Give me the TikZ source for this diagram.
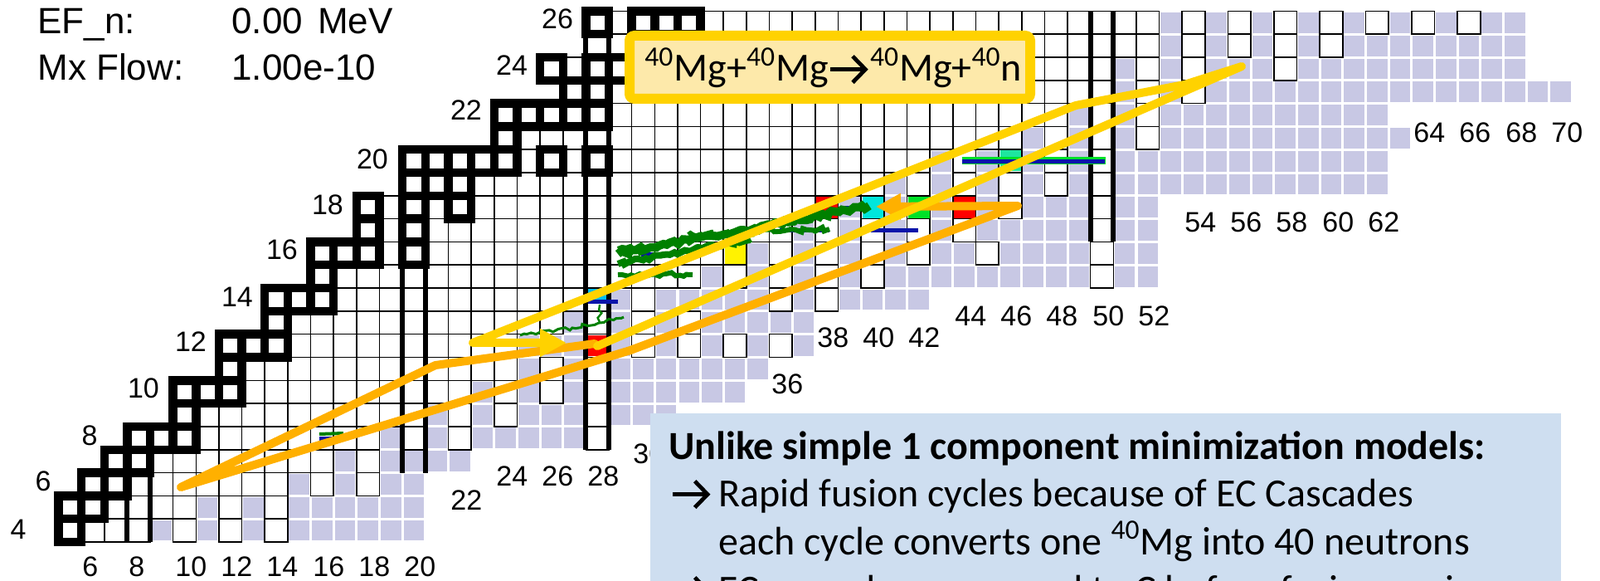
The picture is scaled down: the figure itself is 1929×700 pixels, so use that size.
\documentclass[tikz,border=0pt]{standalone}
\usepackage{fontspec}
\setmainfont{Liberation Sans}
\newfontfamily\calib{Carlito}
\usetikzlibrary{arrows.meta,decorations.pathmorphing}
\pgfdeclarelayer{back}
\pgfdeclarelayer{bg}
\pgfdeclarelayer{stab}
\pgfdeclarelayer{flow}
\pgfdeclarelayer{over}
\pgfsetlayers{back,bg,main,stab,flow,over}
\definecolor{lav}{RGB}{200,200,228}
\definecolor{ylw}{RGB}{255,210,0}
\definecolor{org}{RGB}{255,176,0}
\definecolor{ybox}{RGB}{253,233,170}
\definecolor{bbox}{RGB}{206,222,240}
\definecolor{fgreen}{RGB}{0,128,0}
\definecolor{fblue}{RGB}{10,20,170}
\definecolor{fcyan}{RGB}{0,230,220}
\definecolor{fgrn}{RGB}{0,225,40}
\definecolor{fmint}{RGB}{30,230,160}
\definecolor{fsky}{RGB}{0,190,240}
\newcommand\drawcell[3]{%
  \pgfmathsetmacro\cx{-54+27.65*#1}%
  \pgfmathsetmacro\cy{750.2-27.8*#2}%
  \if#3L\relax
    \begin{pgfonlayer}{bg}\fill[lav] (\cx-12.3,\cy-12.4) rectangle (\cx+12.3,\cy+12.4);\end{pgfonlayer}%
  \else
    \draw[thincell] (\cx-13.825,\cy-13.9) rectangle (\cx+13.825,\cy+13.9);%
    \if#3S\relax
      \begin{pgfonlayer}{stab}\draw[stabcell] (\cx-13.825,\cy-13.9) rectangle (\cx+13.825,\cy+13.9);\end{pgfonlayer}%
    \fi
  \fi}
\newcommand\crow[6]{%
  \foreach \n in {#2,...,#4}{%
    \ifnum\n>#3\relax\gdef\ctype{L}\else\gdef\ctype{W}\fi
    \foreach \e in {#6}{\ifnum\n=\e\relax\gdef\ctype{W}\fi}%
    \foreach \e in {#5}{\ifnum\n=\e\relax\gdef\ctype{S}\fi}%
    \drawcell{\n}{#1}{\ctype}%
  }}
\newcommand\rarr{\tikz[baseline={(0,-0.3em)}]\draw[line width=0.1em,-{Straight Barb[length=0.32em,width=0.66em,line width=0.1em]}] (0,0) -- (0.95em,0);}
\begin{document}
\begin{tikzpicture}[x=0.5pt,y=-0.5pt,
  thincell/.style={draw=black,fill=white,line width=0.8pt},
  stabcell/.style={draw=black,line width=5.2pt},
  magic/.style={draw=black,line width=3pt},
  lbl/.style={font=\fontsize{17}{17}\selectfont,inner sep=0pt,anchor=west},
  zlbl/.style={font=\fontsize{17}{17}\selectfont,inner sep=0pt},
  hdr/.style={font=\fontsize{22}{22}\selectfont,inner sep=0pt,anchor=base west},
  ypath/.style={draw=ylw,line width=5pt,line cap=round,line join=round},
  opath/.style={draw=org,line width=5pt,line cap=round,line join=round},
  gstreak/.style={draw=fgreen,decorate,decoration={random steps,segment length=2.5pt,amplitude=1.3pt}},
  bline/.style={draw=fblue,line width=2.5pt},
  btxt/.style={font=\calib\fontsize{24}{24}\selectfont,inner sep=0pt,anchor=base west}
]
\begin{pgfonlayer}{back}\fill[white] (0,0) rectangle (1929,700);\end{pgfonlayer}
\useasboundingbox (0,0) rectangle (1929,700);
% ---- chart rows: Z, Nstart, last contiguous white N, last N, stable, extra white
\crow{4}{5}{8}{20}{5}{10,12,14}
\crow{5}{5}{10}{20}{5,6}{12,14}
\crow{6}{6}{14}{20}{6,7}{16,18}
\crow{7}{7}{16}{22}{7,8}{18}
\crow{8}{8}{18}{28}{8,9,10}{20,22,28}
\crow{9}{10}{20}{31}{10}{22,24,28}
\crow{10}{10}{22}{34}{10,11,12}{24,26,28}
\crow{11}{12}{24}{35}{12}{26,28}
\crow{12}{12}{24}{37}{12,13,14}{28,30,32,34,36}
\crow{13}{14}{26}{37}{14}{28,30,32}
\crow{14}{14}{28}{42}{14,15,16}{30,36,38}
\crow{15}{16}{32}{52}{16}{34,36,38,40,50}
\crow{16}{16}{34}{52}{16,17,18,20}{36,38,40,42,45,50}
\crow{17}{18}{36}{52}{18,20}{38,40,42,44,50}
\crow{18}{18}{38}{52}{18,20,22}{40,42,44,46,50}
\crow{19}{20}{40}{62}{20,21,22}{42,44,46,48,50}
\crow{20}{20}{42}{62}{20,21,22,23,24,26,28}{44,46,48,50}
\crow{21}{24}{46}{63}{24}{48,50,52}
\crow{22}{24}{48}{62}{24,25,26,27,28}{50,52}
\crow{23}{27}{50}{70}{27,28}{52,54}
\crow{24}{26}{50}{68}{26,28,29,30}{52,54,58}
\crow{25}{28}{52}{68}{30}{54,56,58,60}
\crow{26}{28}{52}{68}{28,30,31,32}{54,56,58,60,62,64,66}
% ---- magic numbers
\begin{pgfonlayer}{stab}
\draw[magic] (153.4,652.9) -- (153.4,541.7) (181.0,652.9) -- (181.0,541.7);
\draw[magic] (485.2,569.5) -- (485.2,180.3) (512.8,569.5) -- (512.8,180.3);
\draw[magic] (706.4,541.7) -- (706.4,13.5) (734.0,541.7) -- (734.0,13.5);
\draw[magic] (1314.7,291.5) -- (1314.7,13.5) (1342.3,291.5) -- (1342.3,13.5);
\end{pgfonlayer}
% ---- header texts
\node[hdr] (efn) at (45,41) {EF\_n:};
\node[hdr] (efv) at (279,41) {0.00\hspace{3pt} MeV};
\node[hdr] (mxf) at (45,97) {Mx Flow:};
\node[hdr] (mxv) at (279,97) {1.00e-10};
% ---- Z labels
\node[zlbl] (z4) at (22,638) {4};
\node[zlbl] (z6) at (52,580) {6};
\node[zlbl] (z8) at (108,525) {8};
\node[zlbl] (z10) at (173,468) {10};
\node[zlbl] (z12) at (230,412) {12};
\node[zlbl] (z14) at (286,358) {14};
\node[zlbl] (z16) at (340,301) {16};
\node[zlbl] (z18) at (395,247) {18};
\node[zlbl] (z20) at (449,192) {20};
\node[zlbl] (z22) at (562,133) {22};
\node[zlbl] (z24) at (617,79) {24};
\node[zlbl] (z26) at (672,23) {26};
% ---- N labels
\foreach \v/\xx in {6/99,8/155,10/211,12/266,14/321,16/377,18/432,20/487}{\node[lbl] (n\v) at (\xx,683) {\v};}
\node[lbl] (n22) at (543,603) {22};
\foreach \v/\xx in {24/598,26/653,28/708}{\node[lbl] (n\v) at (\xx,574) {\v};}
\node[lbl] (n30) at (763,547) {30};
\node[lbl] (n36) at (930,463) {36};
\foreach \v/\xx in {38/985,40/1040,42/1095}{\node[lbl] (n\v) at (\xx,407) {\v};}
\foreach \v/\xx in {44/1151,46/1206,48/1261,50/1317,52/1372}{\node[lbl] (n\v) at (\xx,381) {\v};}
\foreach \v/\xx in {54/1428,56/1483,58/1538,60/1594,62/1649}{\node[lbl] (n\v) at (\xx,268) {\v};}
\foreach \v/\xx in {64/1704,66/1759,68/1815,70/1870}{\node[lbl] (n\v) at (\xx,160) {\v};}
% ---- flows
\begin{pgfonlayer}{flow}
\fill[red] (984,237) rectangle (1010,263);
\fill[fcyan] (1040,237) rectangle (1065,263);
\fill[fgrn] (1095,237) rectangle (1121,263);
\fill[red] (1150,237) rectangle (1176,263);
\fill[red] (709,404) rectangle (731,429);
\fill[yellow] (874,293) rectangle (899,318);
\fill[fmint] (1206,181) rectangle (1231,206);
\fill[fsky] (709,348) rectangle (731,362);
\draw[fgrn,line width=4.5pt] (1160,194) -- (1333,194);
\draw[bline] (1160,195) -- (1332,195);
\draw[bline] (1050,278) -- (1107,278);
\draw[bline] (885,279) -- (905,279) (940,278) -- (1000,278);
\draw[bline] (773,307) -- (800,307);
\draw[bline] (709,364) -- (745,364);
\draw[bline] (1012,251) -- (1030,251);
\draw[bline] (385,528) -- (412,528);
\draw[fgreen,line width=2pt] (385,523) -- (414,522);
\draw[gstreak,line width=5pt] (745,306) -- (1048,248);
\draw[gstreak,line width=4pt] (745,318) -- (905,288);
\draw[gstreak,line width=3pt] (830,283) -- (1000,276);
\draw[gstreak,line width=3pt] (745,331) -- (835,331);
\draw[gstreak,line width=3pt] (745,300) -- (790,297);
\draw[gstreak,line width=1.5pt] (627,404) -- (690,395) -- (752,382);
\draw[gstreak,line width=1.2pt] (723,367) -- (723,388);
\end{pgfonlayer}
% ---- cycle paths
\begin{pgfonlayer}{over}
\draw[opath,-{Triangle[length=15pt,width=15pt]}] (717,414) -- (525,440) -- (218,587) -- (760,422) -- (1227,248) -- (1056,249);
\draw[ypath,-{Triangle[length=16pt,width=16pt]}] (720,417) -- (1497,80) -- (1428,102) -- (1297,127) -- (570,413) -- (683,413);
% ---- yellow equation box
\draw[draw=ylw,fill=ybox,line width=6pt,rounded corners=3pt] (759,43) rectangle (1242,119);
\node[anchor=base west,inner sep=0pt,font=\calib\fontsize{24}{24}\selectfont] (eq) at (777,98)
  {\textsuperscript{40}Mg+\textsuperscript{40}Mg\rarr\textsuperscript{40}Mg+\textsuperscript{40}n};
% ---- blue text box
\fill[bbox] (784,498) rectangle (1882,720);
\node[btxt,font=\calib\bfseries\fontsize{24}{24}\selectfont] (t1) at (806,553) {Unlike simple 1 component minimization models:};
\node[btxt] (a2) at (808,610) {\rarr};
\node[btxt] (t2) at (866,610) {Rapid fusion cycles because of EC Cascades};
\node[btxt] (t3) at (866,668) {each cycle converts one \textsuperscript{40}Mg into 40 neutrons};
\node[btxt] (a4) at (808,726) {\rarr};
\node[btxt] (t4) at (866,726) {EC cascades compared to C before fusion again};
\end{pgfonlayer}
\end{tikzpicture}
\end{document}
